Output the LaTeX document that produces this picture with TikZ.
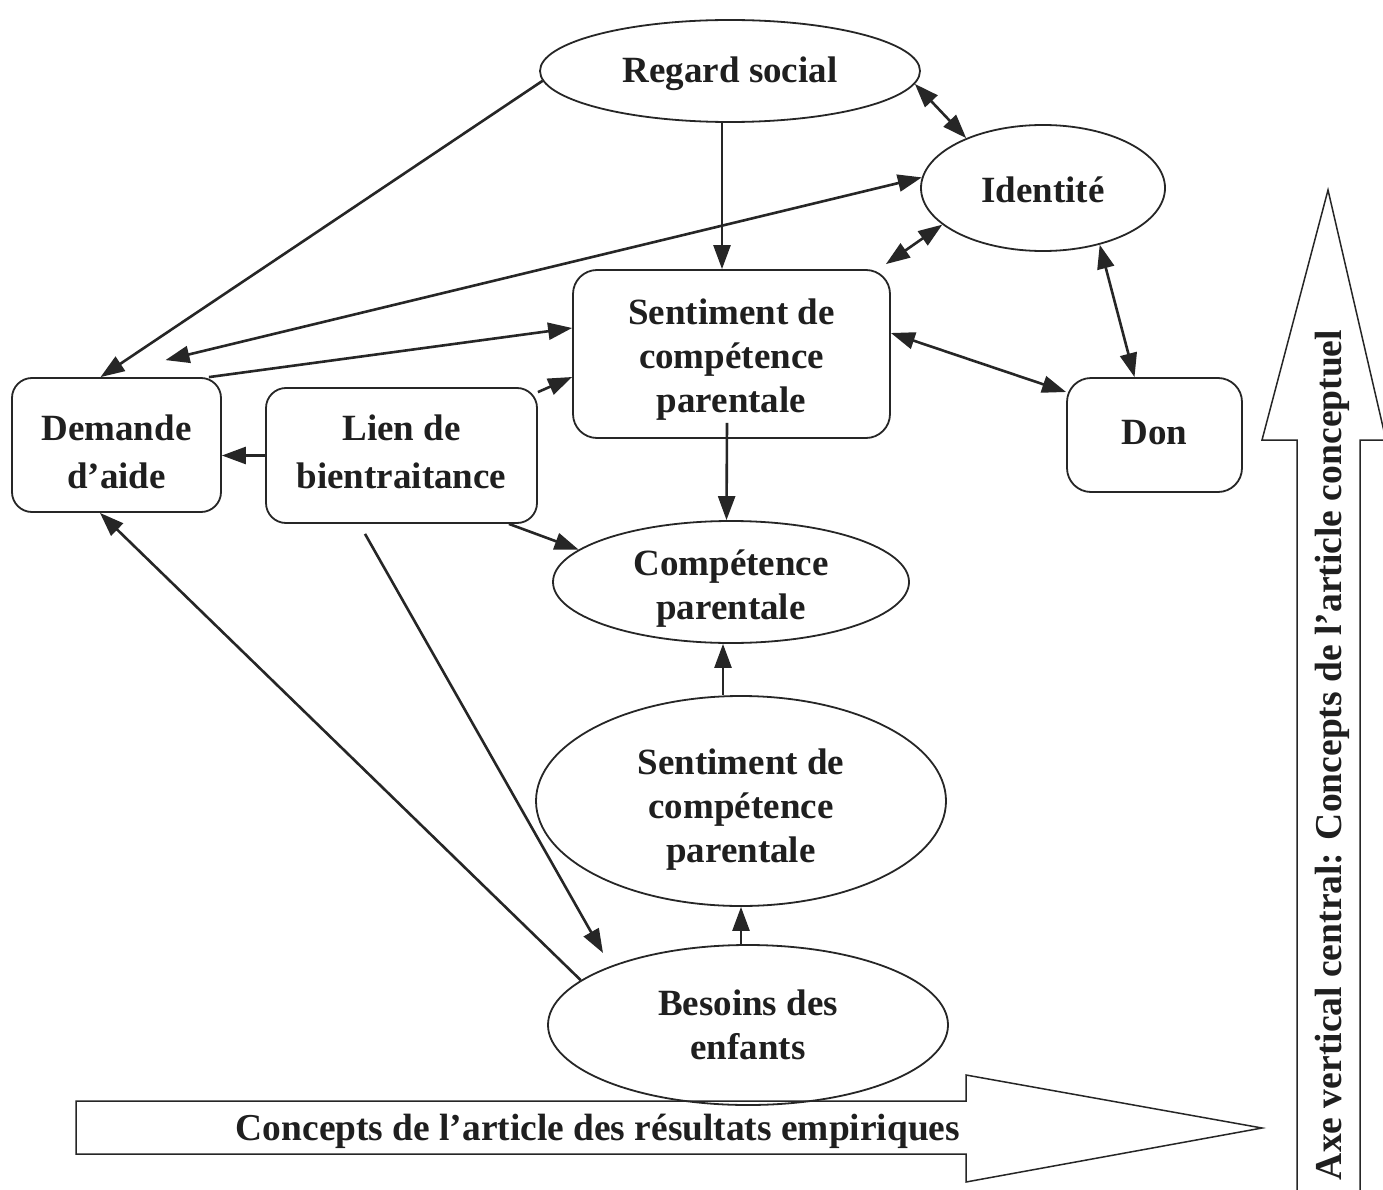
\documentclass[tikz,border=0pt]{standalone}
\usepackage{fontspec}
\usepackage{graphicx}
\setmainfont{Liberation Serif}
\usetikzlibrary{shapes.geometric,arrows.meta,calc}
\begin{document}
\begin{tikzpicture}[x=1pt,y=-1pt,
  lab/.style={font=\bfseries\fontsize{37}{44}\selectfont, align=center, text=black!88, inner sep=0pt},
  labwide/.style={font=\bfseries\fontsize{37}{48}\selectfont, align=center, text=black!88, inner sep=0pt},
  ell/.style={ellipse, draw=black!85, line width=1.8pt, inner sep=0pt},
  rbox/.style={draw=black!85, rounded corners=24pt, line width=1.8pt, inner sep=0pt},
  arr/.style={draw=black!85, line width=2.6pt, -{Triangle[length=24pt,width=17pt]}},
  darr/.style={draw=black!85, line width=2.6pt, {Triangle[length=24pt,width=17pt]}-{Triangle[length=24pt,width=17pt]}},
  bigarrow/.style={draw=black!85, line width=1.5pt, fill=white},
  axislab/.style={font=\bfseries\fontsize{38}{44}\selectfont, text=black!88}
]
\useasboundingbox (0,0) rectangle (1383,1190);
\fill[white] (0,0) rectangle (1383,1190);

% big arrows
\draw[bigarrow] (76,1101) -- (966,1101) -- (966,1075) -- (1262,1128) -- (966,1182) -- (966,1154) -- (76,1154) -- cycle;
\draw[bigarrow] (1297,1195) -- (1297,440) -- (1262,440) -- (1328,190) -- (1386,440) -- (1360,440) -- (1360,1195);
\node[axislab] (htext) at (598,1131) {\resizebox{724pt}{\height}{Concepts de l’article des résultats empiriques}};
\node[axislab, rotate=90] (vtext) at (1332,755) {\resizebox{850pt}{\height}{Axe vertical central: Concepts de l’article conceptuel}};

% node shapes
\node[ell, minimum width=380pt, minimum height=102pt] (regard) at (730,71) {};
\node[ell, minimum width=244pt, minimum height=126pt] (identite) at (1043,188) {};
\node[rbox, minimum width=317pt, minimum height=168pt] (sent1) at (731.5,354) {};
\node[rbox, minimum width=175pt, minimum height=114pt] (don) at (1154.5,435) {};
\node[rbox, rounded corners=20pt, minimum width=209pt, minimum height=134pt] (demande) at (116.5,445) {};
\node[rbox, rounded corners=20pt, minimum width=271pt, minimum height=135pt] (lien) at (401.5,455.5) {};
\node[ell, minimum width=356pt, minimum height=122pt] (comp) at (731,582) {};
\node[ell, minimum width=410pt, minimum height=210pt] (sent2) at (741,801) {};
\node[ell, minimum width=400pt, minimum height=160pt] (besoins) at (748,1025) {};

% node texts
\node[lab] (regard-t) at ([yshift=-3pt]regard.center) {Regard social};
\node[lab] (identite-t) at ([yshift=-2pt]identite.center) {Identité};
\node[lab] (sent1-t) at ([yshift=-6pt]sent1.center) {Sentiment de\\compétence\\parentale};
\node[lab] (don-t) at ([yshift=2pt]don.center) {Don};
\node[labwide] (demande-t) at ([yshift=-7pt]demande.center) {Demande\\d’aide};
\node[labwide] (lien-t) at ([yshift=4pt]lien.center) {Lien de\\bientraitance};
\node[lab] (comp-t) at ([yshift=-7pt]comp.center) {Compétence\\parentale};
\node[lab] (sent2-t) at ([yshift=-9pt]sent2.center) {Sentiment de\\compétence\\parentale};
\node[lab] (besoins-t) at (besoins.center) {Besoins des\\enfants};

% connectors
\draw[arr] (regard.183) -- ([xshift=-16pt]demande.north);
\draw[darr] (regard.-4.5) -- (identite.147);
\draw[arr] ([xshift=-8pt]regard.south) -- ([xshift=-8pt]regard.south |- sent1.north);
\draw[darr] (identite.175) -- ([xshift=49pt,yshift=17pt]demande.north);
\draw[arr] ([xshift=-13pt]demande.north east) -- ([yshift=26pt]sent1.west);
\draw[darr] ([xshift=-5pt,yshift=5pt]sent1.north east) -- (identite.200);
\draw[darr] (identite.-45) -- ([xshift=-20pt]don.north);
\draw[darr] ([yshift=21pt]sent1.east) -- ([yshift=43pt]don.west);
\draw[arr] ([yshift=-5pt]lien.north east) -- ([yshift=-23pt]sent1.west);
\draw[arr] (lien.west) -- (lien.west -| demande.east);
\draw[arr] ([xshift=-4.5pt,yshift=16pt]sent1.south) -- ([xshift=-4.5pt]comp.north);
\draw[arr] ([xshift=-29pt]lien.south east) -- (comp.168);
\draw[arr] ([xshift=-8pt]comp.south |- sent2.north) -- ([xshift=-8pt]comp.south);
\draw[arr] (sent2.south |- besoins.north) -- (sent2.south);
\draw[arr] ([xshift=-36.5pt,yshift=-10pt]lien.south) -- ([shift={(-145pt,72pt)}]besoins.center);
\draw[arr] (besoins.165) -- ([xshift=-16.5pt]demande.south);
\end{tikzpicture}
\end{document}
